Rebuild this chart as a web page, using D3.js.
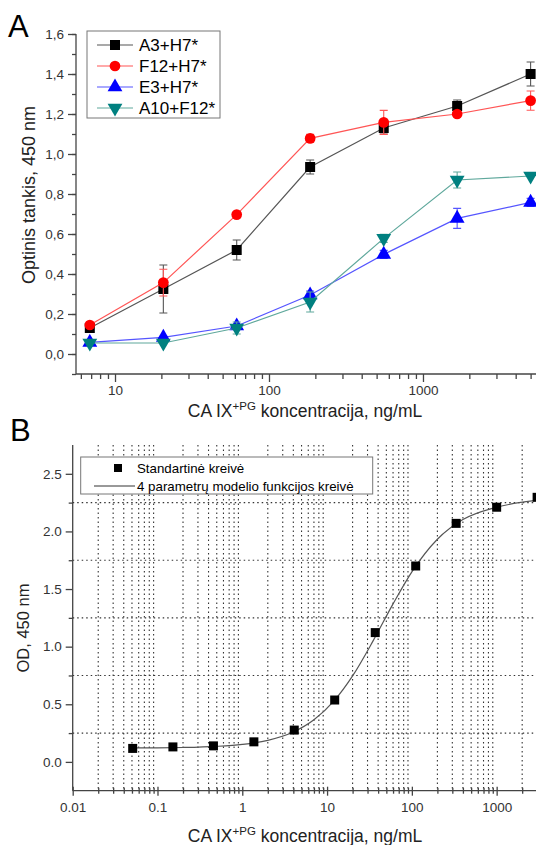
<html>
<head>
<style>
  body{margin:0;background:#fff}
  svg text{font-family:"Liberation Sans",Arial,sans-serif;fill:#222}
  .ax path,.ax line{stroke:#444;stroke-width:1.3px}
  .ax text{font-size:13.5px;fill:#333}
</style>
</head>
<body>
<div id="chart"></div>
<script src="https://d3js.org/d3.v7.min.js"></script>
<script>
(function () {

  // ---- panel A data ----
  var concA   = [6.86, 20.6, 61.7, 185, 556, 1667, 5000];
  var namesA  = ['A3+H7*', 'F12+H7*', 'E3+H7*', 'A10+F12*'];
  var valsA   = [
    [0.13, 0.325, 0.52, 0.935, 1.13, 1.24, 1.40],
    [0.145, 0.357, 0.697, 1.078, 1.158, 1.20, 1.267],
    [0.058, 0.083, 0.14, 0.295, 0.498, 0.678, 0.758],
    [0.055, 0.055, 0.13, 0.26, 0.578, 0.87, 0.89]
  ];
  var errsA   = [
    [0.01, 0.12, 0.05, 0.035, 0.03, 0.03, 0.06],
    [0.01, 0.067, 0.01, 0.02, 0.06, 0.01, 0.048],
    [0.005, 0.01, 0.01, 0.02, 0.02, 0.05, 0.02],
    [0.005, 0.01, 0.03, 0.05, 0.02, 0.04, 0.01]
  ];
  var yTicksA = [0, 0.2, 0.4, 0.6, 0.8, 1.0, 1.2, 1.4, 1.6];
  var xTicksA = [10, 100, 1000];

  // ---- panel B data ----
  var concB   = [0.051, 0.152, 0.457, 1.37, 4.1, 12.3, 37, 111, 333, 1000, 3000];
  var odB     = [0.117, 0.13, 0.139, 0.174, 0.276, 0.537, 1.122, 1.70, 2.07, 2.21, 2.296];
  var fitX    = [0.05, 0.1, 0.2, 0.5, 1, 2, 4, 7, 12, 20, 35, 60, 100, 200, 400, 1000, 3000];
  var fitY    = [0.121, 0.122, 0.125, 0.135, 0.152, 0.187, 0.259, 0.365, 0.527, 0.746, 1.052, 1.371, 1.649, 1.932, 2.103, 2.21, 2.27];
  var yTicksB = [0, 0.5, 1.0, 1.5, 2.0, 2.5];
  var yGridB  = [0.25, 0.75, 1.25, 1.75, 2.25];
  var xTicksB = [0.01, 0.1, 1, 10, 100, 1000];

  var colors  = ['#000000', '#ff0000', '#0000ff', '#008080'];
  var lineCol = ['#555555', '#ff5555', '#5555ff', '#5fa89c'];
  var shapes  = [d3.symbolSquare, d3.symbolCircle, d3.symbolTriangle, d3.symbolTriangle];
  var rot     = [0, 0, 0, 180];
  var sizes   = [100, 90, 95, 95];

  var width = 536, height = 845;
  var svg = d3.select('#chart').append('svg')
    .attr('width', width).attr('height', height);

  var comma = function (d) { return d3.format('.1f')(d).replace('.', ','); };

  function minors(lo, hi) {
    var out = [], e, k;
    for (e = Math.floor(Math.log10(lo)); e <= Math.ceil(Math.log10(hi)); e++) {
      for (k = 2; k <= 9; k++) {
        var v = k * Math.pow(10, e);
        if (v >= lo && v <= hi) out.push(v);
      }
    }
    return out;
  }

  // ================= Panel A =================
  var xA = d3.scaleLog().domain([5.58, 5420]).range([76, 536]);
  var yA = d3.scaleLinear().domain([-0.1, 1.6]).range([374, 34]);

  var gA = svg.append('g');

  gA.append('text').attr('x', 8).attr('y', 37)
    .style('font-size', '31px').style('fill', '#000').text('A');

  // y axis
  gA.append('g').attr('class', 'ax').attr('transform', 'translate(76,0)')
    .call(d3.axisLeft(yA).tickValues(d3.range(-0.1, 1.61, 0.1).map(function (v) { return +v.toFixed(1); }))
      .tickSize(4).tickFormat(''))
    .call(function (g) { g.select('.domain').remove(); });
  gA.append('g').attr('class', 'ax').attr('transform', 'translate(76,0)')
    .call(d3.axisLeft(yA).tickValues(yTicksA).tickSize(8).tickPadding(4).tickFormat(comma))
    .call(function (g) { g.select('.domain').attr('d', 'M0,' + yA(1.6) + 'V' + yA(-0.1)); });

  // x axis
  gA.append('g').attr('class', 'ax').attr('transform', 'translate(0,374)')
    .call(d3.axisBottom(xA).tickValues(minors(5.58, 5420)).tickSize(5).tickFormat(''))
    .call(function (g) { g.select('.domain').remove(); });
  gA.append('g').attr('class', 'ax').attr('transform', 'translate(0,374)')
    .call(d3.axisBottom(xA).tickValues(xTicksA).tickSize(8).tickPadding(3).tickFormat(d3.format('d')))
    .call(function (g) { g.select('.domain').attr('d', 'M76,0H536'); });

  // axis titles
  var tA = gA.append('text').attr('x', 305).attr('y', 417)
    .attr('text-anchor', 'middle').style('font-size', '17.5px');
  tA.append('tspan').text('CA IX');
  tA.append('tspan').attr('dy', -7).style('font-size', '11.5px').text('+PG');
  tA.append('tspan').attr('dy', 7).text(' koncentracija, ng/mL');

  gA.append('text').attr('transform', 'translate(35,195) rotate(-90)')
    .attr('text-anchor', 'middle').style('font-size', '18px')
    .text('Optinis tankis, 450 nm');

  // series
  var lineA = d3.line().x(function (d) { return xA(d[0]); }).y(function (d) { return yA(d[1]); });
  namesA.forEach(function (name, s) {
    var pts = concA.map(function (c, i) { return [c, valsA[s][i], errsA[s][i]]; });
    var g = gA.append('g');
    g.append('path').attr('d', lineA(pts))
      .attr('fill', 'none').attr('stroke', lineCol[s]).attr('stroke-width', 1.2);
    pts.forEach(function (p) {
      var x = xA(p[0]), y1 = yA(p[1] + p[2]), y2 = yA(p[1] - p[2]);
      if (p[2] < 0.015) return;
      g.append('path')
        .attr('d', 'M' + x + ',' + y1 + 'V' + y2 + 'M' + (x - 4) + ',' + y1 + 'H' + (x + 4) + 'M' + (x - 4) + ',' + y2 + 'H' + (x + 4))
        .attr('fill', 'none').attr('stroke', lineCol[s]).attr('stroke-width', 1.1);
    });
    g.selectAll('.m').data(pts).enter().append('path')
      .attr('d', d3.symbol().type(shapes[s]).size(sizes[s]))
      .attr('transform', function (d) { return 'translate(' + xA(d[0]) + ',' + yA(d[1]) + ') rotate(' + rot[s] + ')'; })
      .attr('fill', colors[s]);
  });

  // legend A
  var lgA = gA.append('g');
  lgA.append('rect').attr('x', 87).attr('y', 31).attr('width', 133).attr('height', 87)
    .attr('fill', '#fff').attr('stroke', '#777').attr('stroke-width', 1);
  namesA.forEach(function (name, s) {
    var y = 45 + s * 21;
    lgA.append('line').attr('x1', 97).attr('x2', 133).attr('y1', y).attr('y2', y)
      .attr('stroke', lineCol[s]).attr('stroke-width', 1.2);
    lgA.append('path').attr('d', d3.symbol().type(shapes[s]).size(sizes[s]))
      .attr('transform', 'translate(115,' + y + ') rotate(' + rot[s] + ')')
      .attr('fill', colors[s]);
    lgA.append('text').attr('x', 139).attr('y', y + 6)
      .style('font-size', '17px').style('fill', '#000').text(name);
  });

  // ================= Panel B =================
  var xB = d3.scaleLog().domain([0.01, 2911]).range([72.7, 536]);
  var yB = d3.scaleLinear().domain([-0.25, 2.75]).range([790.7, 445]);

  var gB = svg.append('g');

  gB.append('text').attr('x', 10).attr('y', 441)
    .style('font-size', '31px').style('fill', '#000').text('B');

  // grid
  var grid = gB.append('g').attr('stroke', '#333').attr('stroke-width', 1.1)
    .attr('stroke-dasharray', '1.5,3');
  grid.selectAll('.v').data(minors(0.01, 2911)).enter().append('line')
    .attr('x1', function (d) { return xB(d); }).attr('x2', function (d) { return xB(d); })
    .attr('y1', 445).attr('y2', 790.7);
  grid.selectAll('.h').data(yGridB).enter().append('line')
    .attr('x1', 72.7).attr('x2', 536)
    .attr('y1', function (d) { return yB(d); }).attr('y2', function (d) { return yB(d); });

  // axes
  gB.append('g').attr('class', 'ax').attr('transform', 'translate(72.7,0)')
    .call(d3.axisLeft(yB).tickValues(yGridB).tickSize(4).tickFormat(''))
    .call(function (g) { g.select('.domain').remove(); });
  gB.append('g').attr('class', 'ax').attr('transform', 'translate(72.7,0)')
    .call(d3.axisLeft(yB).tickValues(yTicksB).tickSize(7).tickPadding(4).tickFormat(d3.format('.1f')))
    .call(function (g) { g.select('.domain').attr('d', 'M0,445V790.7'); });
  gB.append('g').attr('class', 'ax').attr('transform', 'translate(0,790.7)')
    .call(d3.axisBottom(xB).tickValues(minors(0.01, 2911)).tickSize(3).tickFormat(''))
    .call(function (g) { g.select('.domain').remove(); g.selectAll('line').attr('y1', -3); });
  gB.append('g').attr('class', 'ax').attr('transform', 'translate(0,790.7)')
    .call(d3.axisBottom(xB).tickValues(xTicksB).tickSize(5).tickPadding(7).tickFormat(d3.format('~g')))
    .call(function (g) { g.select('.domain').attr('d', 'M72.7,0H536'); g.selectAll('line').attr('y1', -4); });

  var tB = gB.append('text').attr('x', 305).attr('y', 842)
    .attr('text-anchor', 'middle').style('font-size', '17.5px');
  tB.append('tspan').text('CA IX');
  tB.append('tspan').attr('dy', -7).style('font-size', '11.5px').text('+PG');
  tB.append('tspan').attr('dy', 7).text(' koncentracija, ng/mL');

  gB.append('text').attr('transform', 'translate(29,628) rotate(-90)')
    .attr('text-anchor', 'middle').style('font-size', '16.5px')
    .text('OD, 450 nm');

  // fit curve
  var lineB = d3.line().curve(d3.curveMonotoneX)
    .x(function (d) { return xB(d[0]); }).y(function (d) { return yB(d[1]); });
  gB.append('path').attr('d', lineB(fitX.map(function (x, i) { return [x, fitY[i]]; })))
    .attr('fill', 'none').attr('stroke', '#555').attr('stroke-width', 1.2);

  gB.selectAll('.pt').data(concB).enter().append('rect')
    .attr('x', function (d) { return xB(d) - 4.5; })
    .attr('y', function (d, i) { return yB(odB[i]) - 4.5; })
    .attr('width', 9).attr('height', 9).attr('fill', '#000');

  // legend B
  var lgB = gB.append('g');
  lgB.append('rect').attr('x', 80.7).attr('y', 457).attr('width', 292).attr('height', 37)
    .attr('fill', '#fff').attr('stroke', '#777').attr('stroke-width', 1);
  lgB.append('rect').attr('x', 114).attr('y', 464).attr('width', 8).attr('height', 8).attr('fill', '#000');
  lgB.append('text').attr('x', 137).attr('y', 473).style('font-size', '13.3px').style('fill', '#000')
    .text('Standartinė kreivė');
  lgB.append('line').attr('x1', 94).attr('x2', 135).attr('y1', 486).attr('y2', 486)
    .attr('stroke', '#333').attr('stroke-width', 1);
  lgB.append('text').attr('x', 137).attr('y', 490.5).style('font-size', '13.3px').style('fill', '#000')
    .text('4 parametrų modelio funkcijos kreivė');

})();
</script>
</body>
</html>
